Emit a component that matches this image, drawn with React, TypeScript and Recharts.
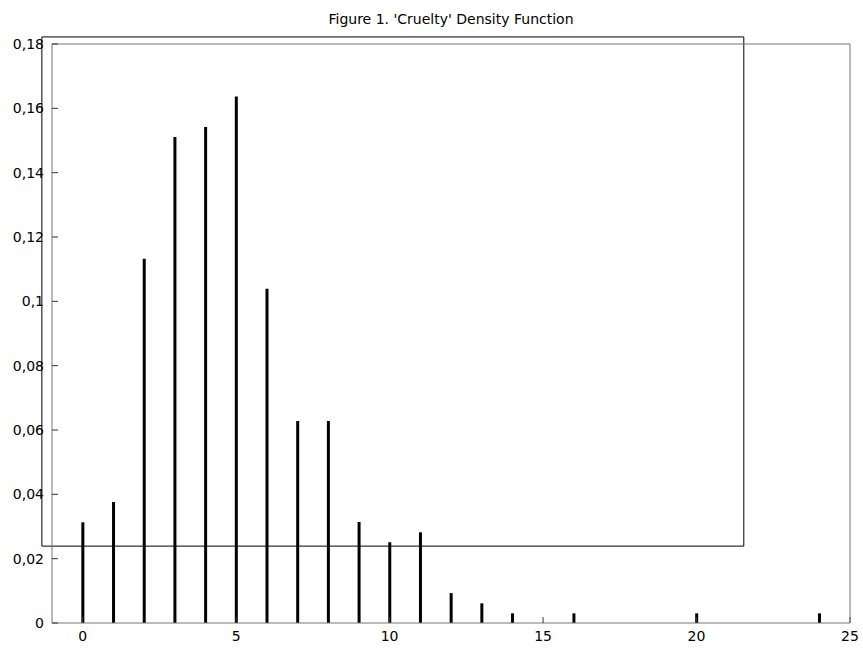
import React from 'react';
import { ComposedChart, Bar, XAxis, YAxis, ReferenceArea } from 'recharts';

const cruelty = [0, 1, 2, 3, 4, 5, 6, 7, 8, 9, 10, 11, 12, 13, 14, 16, 20, 24];
const density = [
  0.0313, 0.0376, 0.1132, 0.1511, 0.1542, 0.1637, 0.1039, 0.0628, 0.0628,
  0.0314, 0.0251, 0.0282, 0.0093, 0.0061, 0.003, 0.003, 0.003, 0.003,
];
const xTicks = [0, 5, 10, 15, 20, 25];
const yTicks = [0, 0.02, 0.04, 0.06, 0.08, 0.1, 0.12, 0.14, 0.16, 0.18];

// the stray box drawn over the plot in the original figure
const boxX = [-1.33, 21.54];
const boxY = [0.0239, 0.1822];

const data = cruelty.map((x, i) => ({ x, d: density[i] }));

const font = { fontFamily: '"DejaVu Sans", Verdana, sans-serif', fontSize: 14, fill: '#000' };
const axisColor = '#777';
const fmt = (v: number) => String(v).replace('.', ',');

export default function App() {
  return (
    <div style={{ position: 'absolute', left: 0, top: 0, width: 863, height: 651, background: '#fff' }}>
      <div
        style={{
          position: 'absolute',
          left: 0,
          width: 902,
          top: 11,
          textAlign: 'center',
          fontFamily: '"DejaVu Sans", Verdana, sans-serif',
          fontSize: 14,
        }}
      >
        Figure 1. 'Cruelty' Density Function
      </div>
      <ComposedChart width={863} height={651} data={data} margin={{ top: 44, right: 13, bottom: 0, left: 0 }}>
        <XAxis
          dataKey="x"
          type="number"
          domain={[-1, 25]}
          ticks={xTicks}
          allowDataOverflow
          height={28}
          tickSize={-6}
          tickMargin={14}
          tick={font}
          stroke={axisColor}
          tickLine={{ stroke: '#333' }}
        />
        <XAxis
          xAxisId="top"
          dataKey="x"
          type="number"
          orientation="top"
          domain={[-1, 25]}
          ticks={xTicks}
          allowDataOverflow
          height={1}
          mirror
          tick={false}
          tickSize={6}
          stroke={axisColor}
          tickLine={{ stroke: '#333' }}
        />
        <YAxis
          type="number"
          domain={[0, 0.18]}
          ticks={yTicks}
          width={52}
          tickSize={-6}
          tickMargin={14}
          tick={font}
          tickFormatter={fmt}
          stroke={axisColor}
          tickLine={{ stroke: '#333' }}
        />
        <YAxis
          yAxisId="right"
          type="number"
          orientation="right"
          domain={[0, 0.18]}
          ticks={yTicks}
          width={1}
          mirror
          tick={false}
          tickSize={6}
          stroke={axisColor}
          tickLine={{ stroke: '#333' }}
        />
        <Bar dataKey="d" fill="#000" barSize={3} isAnimationActive={false} />
        <ReferenceArea
          x1={boxX[0]}
          x2={boxX[1]}
          y1={boxY[0]}
          y2={boxY[1]}
          ifOverflow="visible"
          fill="none"
          fillOpacity={0}
          stroke="#000"
          strokeWidth={1}
          strokeOpacity={1}
        />
      </ComposedChart>
    </div>
  );
}
